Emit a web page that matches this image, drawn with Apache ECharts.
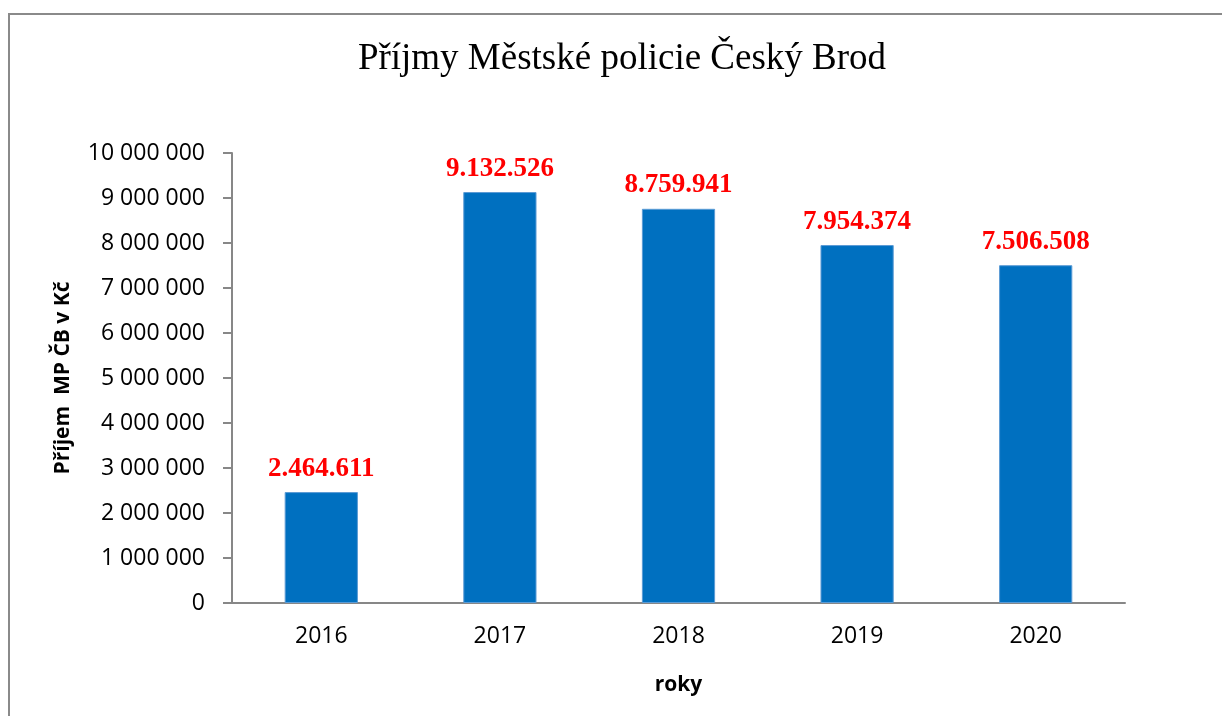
<!DOCTYPE html>
<html>
<head>
<meta charset="utf-8">
<script src="https://cdn.jsdelivr.net/npm/echarts@6/dist/echarts.min.js"></script>
<style>
  html, body { margin: 0; padding: 0; background: #fff; overflow: hidden; }
  #frame {
    position: absolute; left: 8px; top: 13px;
    width: 1400px; height: 900px;
    border: 2px solid #8a8a8a;
  }
  #chart { position: absolute; left: 0; top: 0; width: 1222px; height: 716px; }
</style>
</head>
<body>
<div id="frame"></div>
<div id="chart"></div>
<script>
// data
const years = ['2016', '2017', '2018', '2019', '2020']
const prijmy = [2464611, 9132526, 8759941, 7954374, 7506508]
const yMax = 10000000
const yStep = 1000000

// 10 000 000 / 2.464.611
function spaced(v) {
  return String(v).replace(/\B(?=(\d{3})+(?!\d))/g, ' ')
}
function dotted(v) {
  return String(v).replace(/\B(?=(\d{3})+(?!\d))/g, '.')
}

const chart = echarts.init(document.getElementById('chart'))

const axisGray = '#878787'
const sans = '"Open Sans", "DejaVu Sans", sans-serif'

chart.setOption({
  animation: false,
  title: {
    text: 'Příjmy Městské policie Český Brod',
    left: 617,
    top: 36,
    textAlign: 'center',
    textStyle: {
      fontFamily: '"Liberation Serif", "DejaVu Serif", serif',
      fontWeight: 'normal',
      fontSize: 37,
      color: '#000'
    }
  },
  grid: {
    left: 232,
    right: 97,
    top: 153,
    bottom: 113
  },
  xAxis: {
    type: 'category',
    data: years,
    name: 'roky',
    nameLocation: 'middle',
    nameGap: 72,
    nameTextStyle: { fontFamily: sans, fontWeight: 'bold', fontSize: 21, color: '#000' },
    axisLine: { lineStyle: { color: axisGray, width: 2 } },
    axisTick: { length: 9, lineStyle: { color: axisGray, width: 2 } },
    axisLabel: { margin: 22, fontFamily: sans, fontSize: 23, color: '#000' }
  },
  yAxis: {
    type: 'value',
    min: 0,
    max: yMax,
    interval: yStep,
    name: 'Příjem  MP ČB v Kč',
    nameLocation: 'middle',
    nameGap: 158,
    nameTextStyle: { fontFamily: sans, fontWeight: 'bold', fontSize: 21, color: '#000' },
    splitLine: { show: false },
    axisLine: { show: true, lineStyle: { color: axisGray, width: 2 } },
    axisTick: { show: true, length: 9, lineStyle: { color: axisGray, width: 2 } },
    axisLabel: {
      margin: 27,
      fontFamily: sans,
      fontSize: 23,
      color: '#000',
      formatter: v => spaced(v)
    }
  },
  series: [
    {
      type: 'bar',
      data: prijmy,
      barWidth: '41%',
      itemStyle: {
        color: '#0070c0',
        borderColor: '#5b9bd5',
        borderWidth: 1
      },
      label: {
        show: true,
        position: 'top',
        distance: 10,
        fontFamily: '"Liberation Serif", "DejaVu Serif", serif',
        fontWeight: 'bold',
        fontSize: 27,
        color: '#ff0000',
        formatter: p => dotted(p.value)
      }
    }
  ]
})
</script>
</body>
</html>
